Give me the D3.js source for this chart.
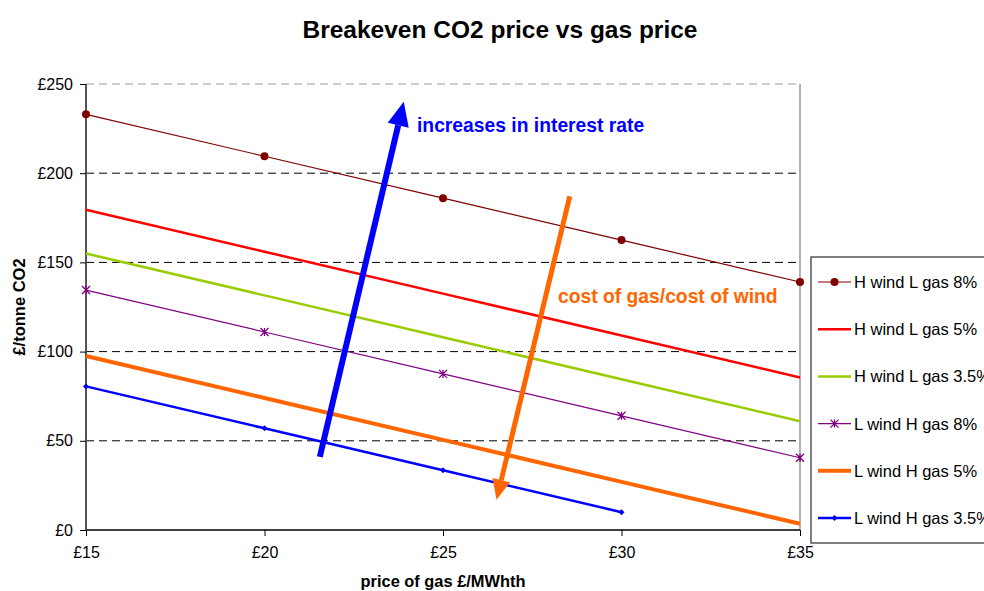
<!DOCTYPE html>
<html>
<head>
<meta charset="utf-8">
<script src="https://cdn.jsdelivr.net/npm/d3@7"></script>
<style>
  body { margin: 0; background: #fff; }
  text { font-family: "Liberation Sans", Arial, sans-serif; }
</style>
</head>
<body>
<div id="chart"></div>
<script>
const width = 984;
const height = 591;
const margin = [84, 184, 61, 86]; // top, right, bottom, left

// gas price £/MWhth
const gasPrices = [15, 20, 25, 30, 35];
const yTicks = [0, 50, 100, 150, 200, 250];

const seriesNames = [
  "H wind L gas 8%",
  "H wind L gas 5%",
  "H wind L gas 3.5%",
  "L wind H gas 8%",
  "L wind H gas 5%",
  "L wind H gas 3.5%"
];
const hWindLGas8 = [233, 209.5, 186, 162.5, 139];
const hWindLGas5 = [179.5, 156, 132.5, 109, 85.5];
const hWindLGas35 = [155, 131.5, 108, 84.5, 61];
const lWindHGas8 = [134.5, 111, 87.5, 64, 40.5];
const lWindHGas5 = [97.5, 74, 50.5, 27, 3.5];
const lWindHGas35 = [80.5, 57, 33.5, 10];

// annotation arrows in data units [gas, co2]
const interestArrow = [[21.55, 41], [23.9, 240]];
const costArrow = [[28.55, 187], [26.5, 17]];

var svg = d3.select("#chart").append("svg")
  .attr("width", width)
  .attr("height", height);

var xScale = d3.scaleLinear().domain([15, 35]).range([margin[3], width - margin[1]]);
var yScale = d3.scaleLinear().domain([0, 250]).range([height - margin[2], margin[0]]);

const styles = [
  { color: "#800000", w: 1.2, marker: "circle" },
  { color: "#FF0000", w: 2.5, marker: null },
  { color: "#99CC00", w: 2.5, marker: null },
  { color: "#800080", w: 1.2, marker: "star" },
  { color: "#FF6600", w: 4, marker: null },
  { color: "#0000FF", w: 2.5, marker: "diamond" }
];
const allSeries = [hWindLGas8, hWindLGas5, hWindLGas35, lWindHGas8, lWindHGas5, lWindHGas35];

// title
svg.append("text")
  .attr("x", 500).attr("y", 38)
  .attr("text-anchor", "middle")
  .style("font-size", "24.5px").style("font-weight", "bold")
  .text("Breakeven CO2 price vs gas price");

// gridlines
svg.append("g").selectAll("line")
  .data(yTicks.filter(d => d > 0))
  .enter().append("line")
  .attr("x1", xScale(15)).attr("x2", xScale(35))
  .attr("y1", d => yScale(d)).attr("y2", d => yScale(d))
  .attr("stroke", d => d == 250 ? "#999" : "#000")
  .attr("stroke-width", 1)
  .attr("stroke-dasharray", "8,5");

// right border of plot area
svg.append("line")
  .attr("x1", xScale(35)).attr("x2", xScale(35))
  .attr("y1", yScale(250)).attr("y2", yScale(0))
  .attr("stroke", "#999").attr("stroke-width", 1.5);

// axes
var xAxis = d3.axisBottom(xScale).tickValues(gasPrices).tickSize(6).tickFormat(d => "£" + d);
var yAxis = d3.axisLeft(yScale).tickValues(yTicks).tickSize(6).tickFormat(d => "£" + d);

var gx = svg.append("g").attr("transform", "translate(0," + yScale(0) + ")").call(xAxis);
gx.select(".domain").attr("d", "M" + xScale(15) + ",0H" + xScale(35)).attr("stroke", "#000").attr("stroke-width", 1.5);
gx.selectAll(".tick line").attr("stroke", "#000");
gx.selectAll(".tick text").attr("y", 28).attr("dy", 0).style("font-size", "16px").attr("fill", "#000")
  .style("font-family", "Liberation Sans, Arial, sans-serif");

var gy = svg.append("g").attr("transform", "translate(" + xScale(15) + ",0)").call(yAxis);
gy.select(".domain").attr("d", "M0," + yScale(0) + "V" + yScale(250)).attr("stroke", "#555").attr("stroke-width", 2);
gy.selectAll(".tick line").attr("stroke", "#000");
gy.selectAll(".tick text").attr("x", -13).style("font-size", "16px").attr("fill", "#000")
  .style("font-family", "Liberation Sans, Arial, sans-serif");

// axis titles
svg.append("text")
  .attr("transform", "translate(25," + yScale(125) + ") rotate(-90)")
  .attr("text-anchor", "middle")
  .style("font-size", "16.5px").style("font-weight", "bold")
  .text("£/tonne CO2");

svg.append("text")
  .attr("x", 443).attr("y", 587)
  .attr("text-anchor", "middle")
  .style("font-size", "16.4px").style("font-weight", "bold")
  .text("price of gas £/MWhth");

// series lines
var line = d3.line().x((d, i) => xScale(gasPrices[i])).y(d => yScale(d));

function drawMarker(g, type, x, y, color) {
  if (type == "circle") {
    g.append("circle").attr("cx", x).attr("cy", y).attr("r", 4).attr("fill", color);
  } else if (type == "star") {
    const s = 4;
    g.append("path")
      .attr("d", `M${x - s},${y - s}L${x + s},${y + s}M${x - s},${y + s}L${x + s},${y - s}M${x},${y - s}V${y + s}`)
      .attr("stroke", color).attr("stroke-width", 1.3);
  } else if (type == "diamond") {
    const s = 3;
    g.append("path")
      .attr("d", `M${x},${y - s}L${x + s},${y}L${x},${y + s}L${x - s},${y}Z`)
      .attr("fill", color);
  }
}

allSeries.forEach((vals, k) => {
  const st = styles[k];
  const g = svg.append("g").attr("class", "series");
  g.append("path")
    .attr("d", line(vals))
    .attr("fill", "none")
    .attr("stroke", st.color)
    .attr("stroke-width", st.w);
  if (st.marker) {
    vals.forEach((v, i) => drawMarker(g, st.marker, xScale(gasPrices[i]), yScale(v), st.color));
  }
});

// annotation arrows
function drawArrow(pts, color, w, head) {
  const x1 = xScale(pts[0][0]), y1 = yScale(pts[0][1]);
  const x2 = xScale(pts[1][0]), y2 = yScale(pts[1][1]);
  const ang = Math.atan2(y2 - y1, x2 - x1);
  const bx = x2 - head * Math.cos(ang), by = y2 - head * Math.sin(ang);
  svg.append("line")
    .attr("x1", x1).attr("y1", y1).attr("x2", bx).attr("y2", by)
    .attr("stroke", color).attr("stroke-width", w);
  const hw = head * 0.45;
  const px = -Math.sin(ang), py = Math.cos(ang);
  svg.append("path")
    .attr("d", `M${x2},${y2}L${bx + px * hw},${by + py * hw}L${bx - px * hw},${by - py * hw}Z`)
    .attr("fill", color);
}
drawArrow(interestArrow, "#0000FF", 6, 24);
drawArrow(costArrow, "#FF6600", 5, 20);

svg.append("text")
  .attr("x", 417).attr("y", 132)
  .attr("fill", "#0000FF")
  .style("font-size", "19.3px").style("font-weight", "bold")
  .text("increases in interest rate");

svg.append("text")
  .attr("x", 558).attr("y", 303)
  .attr("fill", "#FF6600")
  .style("font-size", "19.3px").style("font-weight", "bold")
  .text("cost of gas/cost of wind");

// legend
var legend = svg.append("g").attr("class", "legend");
legend.append("rect")
  .attr("x", 811).attr("y", 257).attr("width", 190).attr("height", 286)
  .attr("fill", "#fff").attr("stroke", "#000").attr("stroke-width", 1);

seriesNames.forEach((name, k) => {
  const st = styles[k];
  const y = 282 + k * 47.2;
  legend.append("line")
    .attr("x1", 818).attr("x2", 851).attr("y1", y).attr("y2", y)
    .attr("stroke", st.color).attr("stroke-width", st.w);
  if (st.marker) drawMarker(legend, st.marker, 834.5, y, st.color);
  legend.append("text")
    .attr("x", 854).attr("y", y + 6)
    .style("font-size", "16.5px")
    .text(name);
});
</script>
</body>
</html>
